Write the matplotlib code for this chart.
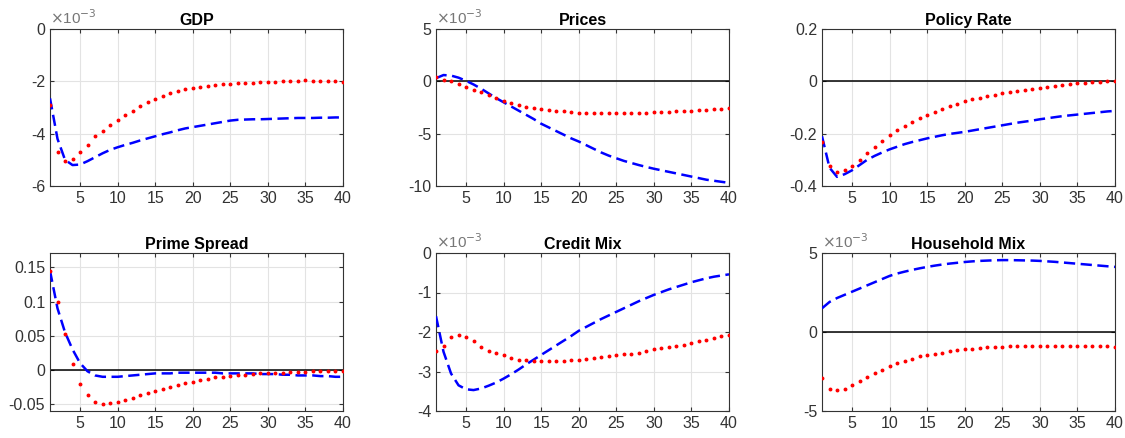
import numpy as np
import matplotlib
matplotlib.use('Agg')
import matplotlib.pyplot as plt

plt.rcParams['font.family'] = ['Liberation Sans', 'DejaVu Sans']
plt.rcParams['axes.unicode_minus'] = False

periods = np.arange(1, 41)

titles = ['GDP', 'Prices', 'Policy Rate', 'Prime Spread', 'Credit Mix', 'Household Mix']

# blue dashed responses
gdp_blue = np.array([-2.65, -4.2, -5.0, -5.2, -5.18, -5.05, -4.9, -4.75, -4.62, -4.52,
                     -4.43, -4.35, -4.26, -4.18, -4.1, -4.02, -3.95, -3.87, -3.8, -3.75,
                     -3.7, -3.65, -3.6, -3.55, -3.5, -3.47, -3.46, -3.45, -3.45, -3.44,
                     -3.43, -3.42, -3.41, -3.4, -3.4, -3.4, -3.39, -3.39, -3.38, -3.38]) * 1e-3
prices_blue = np.array([0.3, 0.6, 0.55, 0.35, 0.05, -0.3, -0.7, -1.15, -1.6, -2.0,
                        -2.4, -2.8, -3.2, -3.6, -4.05, -4.4, -4.75, -5.1, -5.45, -5.75,
                        -6.1, -6.45, -6.8, -7.1, -7.35, -7.6, -7.8, -8.0, -8.18, -8.35,
                        -8.5, -8.65, -8.8, -8.95, -9.1, -9.25, -9.4, -9.5, -9.6, -9.7]) * 1e-3
policy_blue = np.array([-0.21, -0.33, -0.365, -0.355, -0.34, -0.32, -0.3, -0.285, -0.272, -0.26,
                        -0.25, -0.24, -0.232, -0.225, -0.218, -0.212, -0.206, -0.201, -0.197, -0.193,
                        -0.188, -0.183, -0.178, -0.173, -0.168, -0.163, -0.158, -0.154, -0.15, -0.145,
                        -0.141, -0.137, -0.133, -0.13, -0.127, -0.124, -0.121, -0.118, -0.115, -0.113])
spread_blue = np.array([0.145, 0.09, 0.055, 0.03, 0.01, -0.002, -0.008, -0.01, -0.01, -0.01,
                        -0.009, -0.008, -0.007, -0.006, -0.005, -0.005, -0.005, -0.004, -0.004, -0.004,
                        -0.004, -0.004, -0.004, -0.005, -0.005, -0.005, -0.005, -0.005, -0.006, -0.006,
                        -0.006, -0.007, -0.007, -0.008, -0.008, -0.008, -0.009, -0.009, -0.01, -0.01])
credit_blue = np.array([-1.6, -2.5, -3.05, -3.35, -3.45, -3.47, -3.43, -3.36, -3.28, -3.18,
                        -3.07, -2.95, -2.82, -2.7, -2.58, -2.46, -2.34, -2.22, -2.1, -1.97,
                        -1.87, -1.77, -1.67, -1.58, -1.49, -1.4, -1.31, -1.22, -1.14, -1.06,
                        -0.99, -0.92, -0.86, -0.8, -0.74, -0.69, -0.64, -0.6, -0.57, -0.54]) * 1e-3
household_blue = np.array([1.5, 1.9, 2.15, 2.35, 2.55, 2.75, 2.95, 3.15, 3.35, 3.55,
                           3.7, 3.82, 3.93, 4.03, 4.12, 4.2, 4.27, 4.33, 4.38, 4.43,
                           4.47, 4.5, 4.52, 4.54, 4.55, 4.55, 4.54, 4.53, 4.52, 4.5,
                           4.47, 4.44, 4.4, 4.36, 4.32, 4.28, 4.24, 4.2, 4.16, 4.12]) * 1e-3

# red dotted responses (one dot per period)
gdp_red = np.array([-2.9, -4.7, -5.05, -4.95, -4.7, -4.42, -4.1, -3.88, -3.68, -3.49,
                    -3.3, -3.12, -2.95, -2.8, -2.67, -2.56, -2.46, -2.37, -2.3, -2.24,
                    -2.2, -2.16, -2.13, -2.11, -2.09, -2.08, -2.06, -2.05, -2.04, -2.03,
                    -2.02, -2.0, -1.98, -1.97, -1.96, -1.97, -1.98, -1.99, -2.0, -2.02]) * 1e-3
prices_red = np.array([0.38, 0.16, 0.0, -0.25, -0.54, -0.8, -1.05, -1.27, -1.62, -1.9,
                       -2.1, -2.3, -2.45, -2.55, -2.63, -2.72, -2.8, -2.88, -2.95, -3.0,
                       -3.03, -3.05, -3.06, -3.06, -3.05, -3.04, -3.03, -3.01, -2.99, -2.96,
                       -2.93, -2.9, -2.87, -2.84, -2.8, -2.76, -2.72, -2.67, -2.61, -2.54]) * 1e-3
policy_red = np.array([-0.23, -0.322, -0.347, -0.34, -0.322, -0.3, -0.275, -0.25, -0.228, -0.207,
                       -0.187, -0.17, -0.155, -0.14, -0.128, -0.116, -0.105, -0.095, -0.085, -0.076,
                       -0.069, -0.063, -0.057, -0.052, -0.046, -0.042, -0.037, -0.033, -0.029, -0.025,
                       -0.021, -0.018, -0.014, -0.011, -0.008, -0.005, -0.003, -0.001, 0.001, 0.002])
spread_red = np.array([0.144, 0.1, 0.052, 0.008, -0.02, -0.037, -0.047, -0.05, -0.049, -0.047,
                       -0.044, -0.041, -0.037, -0.034, -0.031, -0.028, -0.025, -0.022, -0.019, -0.017,
                       -0.015, -0.013, -0.011, -0.01, -0.009, -0.008, -0.007, -0.006, -0.005, -0.005,
                       -0.004, -0.004, -0.003, -0.003, -0.003, -0.002, -0.002, -0.002, -0.002, -0.002])
credit_red = np.array([-2.48, -2.36, -2.13, -2.07, -2.13, -2.24, -2.37, -2.48, -2.54, -2.59,
                       -2.65, -2.7, -2.72, -2.74, -2.74, -2.74, -2.74, -2.73, -2.72, -2.7,
                       -2.68, -2.66, -2.63, -2.61, -2.58, -2.56, -2.55, -2.52, -2.48, -2.44,
                       -2.41, -2.38, -2.35, -2.32, -2.28, -2.24, -2.2, -2.15, -2.11, -2.07]) * 1e-3
household_red = np.array([-2.9, -3.58, -3.7, -3.58, -3.33, -3.1, -2.84, -2.62, -2.38, -2.17,
                          -1.95, -1.83, -1.68, -1.55, -1.47, -1.37, -1.3, -1.22, -1.15, -1.1,
                          -1.05, -1.01, -0.98, -0.95, -0.92, -0.91, -0.9, -0.9, -0.9, -0.9,
                          -0.89, -0.88, -0.86, -0.86, -0.87, -0.88, -0.89, -0.9, -0.91, -0.93]) * 1e-3

blues = [gdp_blue, prices_blue, policy_blue, spread_blue, credit_blue, household_blue]
reds = [gdp_red, prices_red, policy_red, spread_red, credit_red, household_red]
ylims = [(-6e-3, 0), (-10e-3, 5e-3), (-0.4, 0.2), (-0.06, 0.171), (-4e-3, 0), (-5e-3, 5e-3)]
yticks = [[-6e-3, -4e-3, -2e-3, 0], [-10e-3, -5e-3, 0, 5e-3], [-0.4, -0.2, 0, 0.2],
          [-0.05, 0, 0.05, 0.1, 0.15], [-4e-3, -3e-3, -2e-3, -1e-3, 0], [-5e-3, 0, 5e-3]]
ytick_labels = [['-6', '-4', '-2', '0'], ['-10', '-5', '0', '5'], ['-0.4', '-0.2', '0', '0.2'],
                ['-0.05', '0', '0.05', '0.1', '0.15'], ['-4', '-3', '-2', '-1', '0'], ['-5', '0', '5']]
sci = [True, True, False, False, True, True]

fig = plt.figure(figsize=(11.25, 4.38), dpi=100)
lefts = [50, 436, 822]
W, H = 1125.0, 438.0
txt = '#333333'

for i in range(6):
    r, c = divmod(i, 3)
    top, bot = (29, 186) if r == 0 else (253, 411)
    ax = fig.add_axes([lefts[c] / W, 1 - bot / H, 293 / W, (bot - top) / H])
    ax.grid(True, color='#e3e3e3', linewidth=0.8)
    ax.set_axisbelow(True)
    ax.axhline(0, color='black', linewidth=1.1, zorder=2)
    ax.plot(periods, blues[i], color='blue', linestyle=(0, (4.5, 2.2)), linewidth=1.8, zorder=3)
    ax.plot(periods, reds[i], color='red', linestyle='none', marker='.', markersize=3.6, zorder=4)
    ax.set_xlim(1, 40)
    ax.set_xticks(np.arange(5, 41, 5))
    ax.set_ylim(*ylims[i])
    ax.set_yticks(yticks[i])
    ax.set_yticklabels(ytick_labels[i])
    if sci[i]:
        ax.text(0.0, 1.015, r'$\times$10$^{-3}$', transform=ax.transAxes, fontsize=11,
                color='#777777', ha='left', va='bottom')
    ax.set_title(titles[i], fontsize=11.5, fontweight='bold', pad=3)
    ax.tick_params(direction='in', length=3, labelsize=11.5, colors=txt, top=True, right=True)
    for s in ax.spines.values():
        s.set_color(txt)
        s.set_linewidth(0.8)

fig.savefig('out.png', dpi=100)
